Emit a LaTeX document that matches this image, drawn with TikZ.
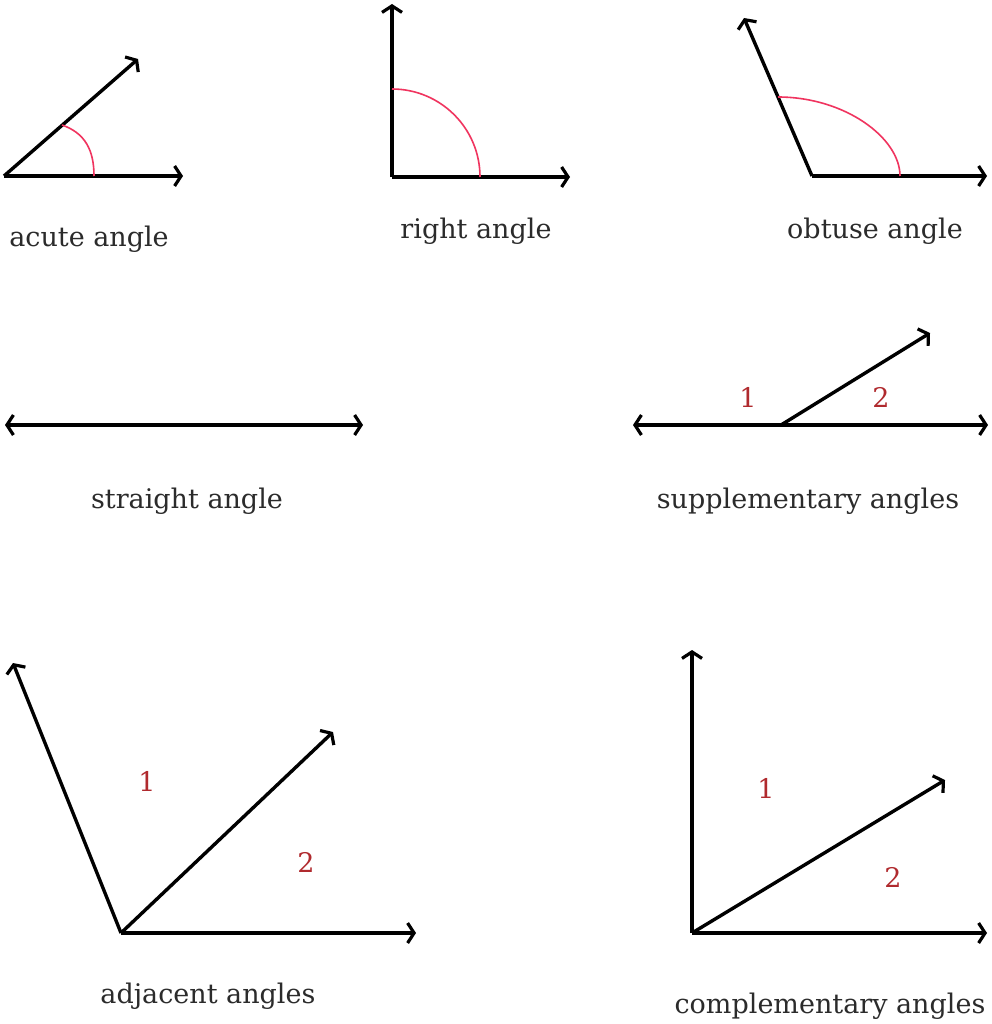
\documentclass[tikz,border=0pt]{standalone}
\usepackage{fontspec}
\setmainfont{DejaVu Serif}
\usetikzlibrary{arrows.meta}
\definecolor{txtgray}{HTML}{2B2B2B}
\definecolor{numred}{HTML}{B02A2E}
\definecolor{arcred}{HTML}{F0345F}
\tikzset{
  ray/.style={line width=3.4pt, black, -{Straight Barb[length=6.5pt,width=20pt,line width=3.2pt]}},
  dray/.style={line width=3.4pt, black, {Straight Barb[length=6.5pt,width=20pt,line width=3.2pt]}-{Straight Barb[length=6.5pt,width=20pt,line width=3.2pt]}},
  arcline/.style={line width=1.6pt, arcred},
  caption/.style={font=\fontsize{27}{31}\selectfont, text=txtgray, anchor=base, inner sep=0pt},
  num/.style={font=\fontsize{27}{31}\selectfont, text=numred, anchor=base, inner sep=0pt}
}
\begin{document}
\begin{tikzpicture}[x=1pt,y=-1pt]
\useasboundingbox[fill=white] (0,0) rectangle (991,1024);
% acute angle
\coordinate (av) at (4,176);
\coordinate (ah) at (183,176);
\coordinate (aa) at (138,59);
\coordinate (aas) at (62,125);
\coordinate (aae) at (94,176);
\draw[ray] (av) -- (ah);
\draw[ray] (av) -- (aa);
\draw[arcline] (aas) .. controls (85,133) and (94,150) .. (aae);
\node[caption] (acap) at (89,246) {acute angle};
% right angle
\coordinate (rv) at (392,177);
\coordinate (rh) at (570,177);
\coordinate (ru) at (392,4);
\coordinate (rae) at (480,177);
\draw[ray] (rv) -- (rh);
\draw[ray] (rv) -- (ru);
\draw[arcline] (rae) arc[start angle=0, end angle=-90, radius=88];
\node[caption] (rcap) at (476,238) {right angle};
% obtuse angle
\coordinate (ov) at (812,176);
\coordinate (oh) at (987,176);
\coordinate (oa) at (744,18);
\coordinate (oas) at (778,97);
\coordinate (oae) at (900,176);
\draw[ray] (ov) -- (oh);
\draw[ray] (ov) -- (oa);
\draw[arcline] (oas) .. controls (845,97) and (900,138) .. (oae);
\node[caption] (ocap) at (875,239) {obtuse angle};
% straight angle
\coordinate (sl) at (5,425);
\coordinate (sr) at (363,425);
\draw[dray] (sl) -- (sr);
\node[caption] (scap) at (187,508) {straight angle};
% supplementary angles
\coordinate (pl) at (633,425);
\coordinate (pr) at (988,425);
\coordinate (pv) at (781,425);
\coordinate (pt) at (930,333);
\draw[dray] (pl) -- (pr);
\draw[ray] (pv) -- (pt);
\node[num] (p1) at (748,407) {1};
\node[num] (p2) at (881,407) {2};
\node[caption] (pcap) at (808,508) {supplementary angles};
% adjacent angles
\coordinate (jv) at (121,933);
\coordinate (jh) at (416,933);
\coordinate (jm) at (333,732);
\coordinate (jl) at (13,663);
\draw[ray] (jv) -- (jh);
\draw[ray] (jv) -- (jm);
\draw[ray] (jv) -- (jl);
\node[num] (j1) at (147,791) {1};
\node[num] (j2) at (306,872) {2};
\node[caption] (jcap) at (208,1003) {adjacent angles};
% complementary angles
\coordinate (cv) at (692,933);
\coordinate (ch) at (987,933);
\coordinate (cu) at (692,650);
\coordinate (cm) at (945,780);
\draw[ray] (cv) -- (ch);
\draw[ray] (cv) -- (cu);
\draw[ray] (cv) -- (cm);
\node[num] (c1) at (766,798) {1};
\node[num] (c2) at (893,887) {2};
\node[caption] (ccap) at (830,1013) {complementary angles};
\end{tikzpicture}
\end{document}
